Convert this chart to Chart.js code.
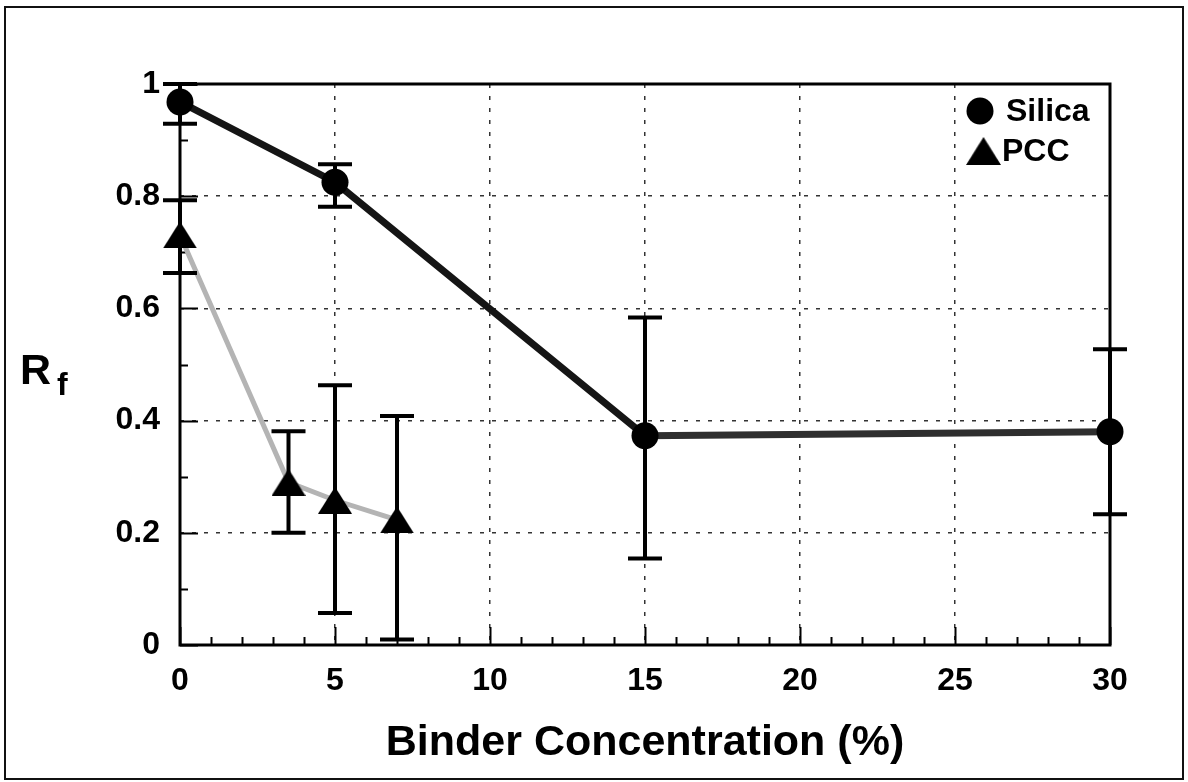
<!DOCTYPE html>
<html>
<head>
<meta charset="utf-8">
<script src="https://cdn.jsdelivr.net/npm/chart.js@4.4.0/dist/chart.umd.min.js"></script>
<style>
  html, body { margin: 0; padding: 0; background: #fff; }
  canvas { display: block; }
</style>
</head>
<body>
<canvas id="rfChart" width="1188" height="782"></canvas>
<script>
// binder concentration (%) vs Rf
const silicaX = [0, 5, 15, 30];
const silicaY = [0.968, 0.825, 0.373, 0.38];
const silicaLo = [0.929, 0.781, 0.154, 0.233];
const silicaHi = [1.0, 0.857, 0.584, 0.527];

const pccX = [0, 3.5, 5, 7];
const pccY = [0.731, 0.29, 0.258, 0.223];
const pccLo = [0.663, 0.2, 0.057, 0.01];
const pccHi = [0.793, 0.381, 0.463, 0.408];

const xTicks = [0, 5, 10, 15, 20, 25, 30];
const yTicks = [0, 0.2, 0.4, 0.6, 0.8, 1];
const yTickLabels = ['0', '0.2', '0.4', '0.6', '0.8', '1'];

const FONT = "'Liberation Sans', Arial, sans-serif";

// flat triangle marker, like the original
function makeTriangle(w, h) {
    const c = document.createElement('canvas');
    c.width = w;
    c.height = h;
    const g = c.getContext('2d');
    g.fillStyle = '#000';
    g.beginPath();
    g.moveTo(w / 2, 0);
    g.lineTo(w, h);
    g.lineTo(0, h);
    g.closePath();
    g.fill();
    return c;
}
const triangle = makeTriangle(34, 27);

function toPoints(xs, ys) {
    return xs.map((x, i) => ({ x: x, y: ys[i] }));
}

const extras = {
    id: 'extras',
    beforeDraw(chart) {
        const ctx = chart.ctx;
        ctx.save();
        ctx.fillStyle = '#fff';
        ctx.fillRect(0, 0, chart.width, chart.height);
        ctx.strokeStyle = '#111';
        ctx.lineWidth = 2;
        ctx.strokeRect(5, 7, 1178, 772);
        ctx.restore();
    },
    beforeDatasetsDraw(chart) {
        const ctx = chart.ctx;
        const a = chart.chartArea;
        const xs = chart.scales.x;
        const ys = chart.scales.y;
        ctx.save();
        ctx.strokeStyle = '#000';
        ctx.lineWidth = 2;
        // inside ticks, minor every 1 on x and 0.1 on y
        ctx.beginPath();
        for (let i = 0; i <= 30; i++) {
            const px = Math.round(xs.getPixelForValue(i)) + 0.5;
            const len = i % 5 === 0 ? 18 : 8;
            ctx.moveTo(px, a.bottom);
            ctx.lineTo(px, a.bottom - len);
        }
        for (let k = 0; k <= 10; k++) {
            const py = Math.round(ys.getPixelForValue(k / 10)) + 0.5;
            const len = k % 2 === 0 ? 18 : 8;
            ctx.moveTo(a.left, py);
            ctx.lineTo(a.left + len, py);
        }
        ctx.stroke();
        // frame
        ctx.lineWidth = 3;
        ctx.strokeRect(a.left, a.top, a.right - a.left, a.bottom - a.top);

        // R_f axis label
        ctx.fillStyle = '#000';
        ctx.textBaseline = 'alphabetic';
        ctx.textAlign = 'left';
        ctx.font = 'bold 43px ' + FONT;
        ctx.fillText('R', 20, 384);
        ctx.font = 'bold 32px ' + FONT;
        ctx.fillText('f', 57, 395);
        ctx.restore();
    },
    afterDatasetsDraw(chart) {
        const ctx = chart.ctx;
        const xs = chart.scales.x;
        const ys = chart.scales.y;
        const bars = [
            [silicaX, silicaLo, silicaHi],
            [pccX, pccLo, pccHi]
        ];
        ctx.save();
        ctx.strokeStyle = '#000';
        ctx.lineWidth = 4;
        ctx.beginPath();
        bars.forEach(([xv, lo, hi]) => {
            xv.forEach((x, i) => {
                const px = xs.getPixelForValue(x);
                const y0 = ys.getPixelForValue(lo[i]);
                const y1 = ys.getPixelForValue(hi[i]);
                ctx.moveTo(px, y0);
                ctx.lineTo(px, y1);
                ctx.moveTo(px - 17, y0);
                ctx.lineTo(px + 17, y0);
                ctx.moveTo(px - 17, y1);
                ctx.lineTo(px + 17, y1);
            });
        });
        ctx.stroke();

        // legend in the top right corner
        ctx.fillStyle = '#000';
        ctx.beginPath();
        ctx.arc(980, 111, 13.5, 0, Math.PI * 2);
        ctx.fill();
        ctx.drawImage(triangle, 966, 137, 35, 28);
        ctx.font = 'bold 32px ' + FONT;
        ctx.textBaseline = 'middle';
        ctx.textAlign = 'left';
        ctx.fillText('Silica', 1006, 112);
        ctx.fillText('PCC', 1002, 152);
        ctx.restore();
    }
};

const ctx = document.getElementById('rfChart').getContext('2d');
const rfChart = new Chart(ctx, {
    type: 'scatter',
    data: {
        datasets: [{
            label: 'Silica',
            data: toPoints(silicaX, silicaY),
            showLine: true,
            borderColor: '#151515',
            borderWidth: 7,
            segment: {
                borderColor: c => c.p0DataIndex === 2 ? '#2e2e2e' : '#151515'
            },
            pointStyle: 'circle',
            pointRadius: 13.5,
            pointBorderWidth: 0,
            pointBackgroundColor: '#000',
            clip: false,
            order: 1
        }, {
            label: 'PCC',
            data: toPoints(pccX, pccY),
            showLine: true,
            borderColor: '#b4b4b4',
            borderWidth: 5,
            pointStyle: triangle,
            pointBackgroundColor: '#000',
            clip: false,
            order: 2
        }]
    },
    options: {
        responsive: false,
        animation: false,
        layout: {
            padding: { left: 0, right: 78, top: 84, bottom: 0 }
        },
        plugins: {
            legend: { display: false },
            tooltip: { enabled: false }
        },
        scales: {
            x: {
                type: 'linear',
                min: 0,
                max: 30,
                afterBuildTicks: s => { s.ticks = xTicks.map(v => ({ value: v })); },
                afterFit: s => { s.height = 137; },
                grid: {
                    color: '#333',
                    lineWidth: 1.5,
                    drawTicks: false
                },
                border: { display: false, dash: [4, 8] },
                ticks: {
                    color: '#000',
                    padding: 17,
                    font: { family: FONT, size: 32, weight: 'bold' }
                },
                title: {
                    display: true,
                    text: 'Binder Concentration (%)',
                    color: '#000',
                    padding: { top: 0, bottom: 13 },
                    font: { family: FONT, size: 43, weight: 'bold' }
                }
            },
            y: {
                type: 'linear',
                min: 0,
                max: 1,
                afterBuildTicks: s => { s.ticks = yTicks.map(v => ({ value: v })); },
                afterFit: s => { s.width = 180; },
                grid: {
                    color: '#333',
                    lineWidth: 1.5,
                    drawTicks: false
                },
                border: { display: false, dash: [4, 8] },
                ticks: {
                    color: '#000',
                    padding: 20,
                    font: { family: FONT, size: 32, weight: 'bold' },
                    callback: (v, i) => yTickLabels[i]
                }
            }
        }
    },
    plugins: [extras]
});
</script>
</body>
</html>
